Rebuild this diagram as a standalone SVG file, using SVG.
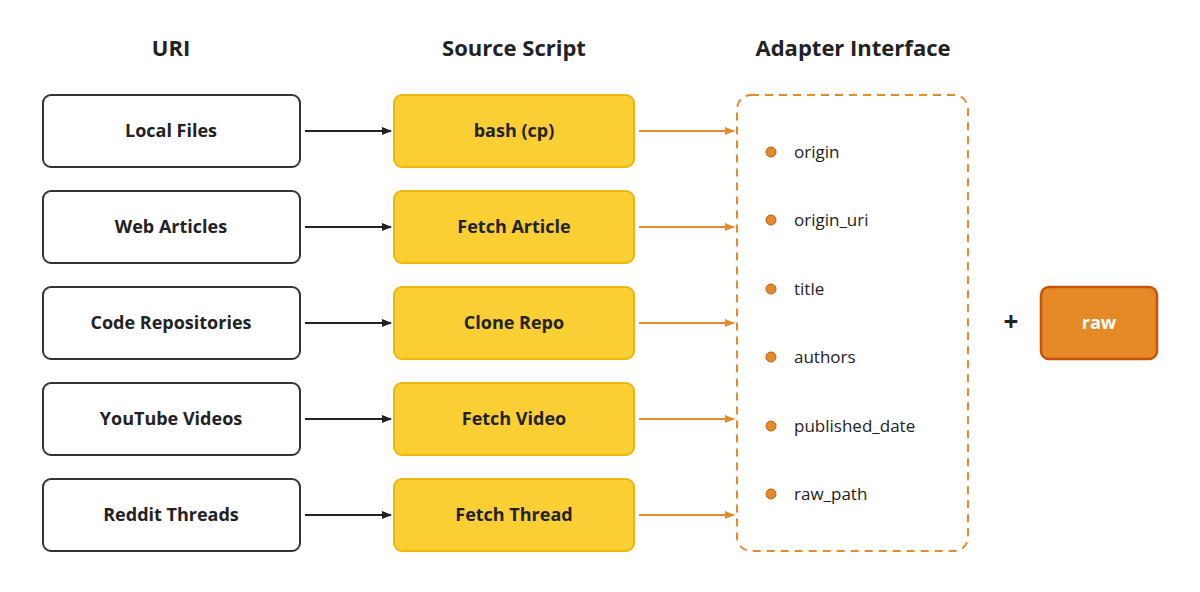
<svg xmlns="http://www.w3.org/2000/svg" width="1200" height="592" viewBox="0 0 1200 592">
<style>
text{font-family:"Open Sans","Noto Sans",sans-serif;fill:#222}
.h{font-size:22px;font-weight:700;text-anchor:middle}
.u rect{fill:#fff;stroke:#333;stroke-width:2}
.s rect{fill:#f9cf33;stroke:#e8b80f;stroke-width:2}
.n{font-size:18px;font-weight:700;text-anchor:middle}
.f{font-size:17px}
.d{fill:#e38a2a;stroke:#c45e10;stroke-width:1}
.bk{stroke:#222;stroke-width:2;fill:none}
.or{stroke:#e8892a;stroke-width:2;fill:none}
</style>
<defs>
<marker id="ab" markerWidth="10" markerHeight="8" refX="9" refY="4" orient="auto" markerUnits="userSpaceOnUse"><path d="M0,0 L10,4 L0,8 z" fill="#222"/></marker>
<marker id="ao" markerWidth="10" markerHeight="8" refX="9" refY="4" orient="auto" markerUnits="userSpaceOnUse"><path d="M0,0 L10,4 L0,8 z" fill="#e8892a"/></marker>
</defs>
<rect width="1200" height="592" fill="#fff"/>
<text class="h" x="171" y="56">URI</text>
<text class="h" x="514" y="56">Source Script</text>
<text class="h" x="853" y="56">Adapter Interface</text>
<g id="u1" class="u"><rect x="43" y="95" width="257" height="72" rx="8"/><text class="n" x="171" y="137">Local Files</text></g>
<g id="u2" class="u"><rect x="43" y="191" width="257" height="72" rx="8"/><text class="n" x="171" y="233">Web Articles</text></g>
<g id="u3" class="u"><rect x="43" y="287" width="257" height="72" rx="8"/><text class="n" x="171" y="329">Code Repositories</text></g>
<g id="u4" class="u"><rect x="43" y="383" width="257" height="72" rx="8"/><text class="n" x="171" y="425">YouTube Videos</text></g>
<g id="u5" class="u"><rect x="43" y="479" width="257" height="72" rx="8"/><text class="n" x="171" y="521">Reddit Threads</text></g>
<g id="s1" class="s"><rect x="394" y="95" width="240" height="72" rx="8"/><text class="n" x="514" y="137">bash (cp)</text></g>
<g id="s2" class="s"><rect x="394" y="191" width="240" height="72" rx="8"/><text class="n" x="514" y="233">Fetch Article</text></g>
<g id="s3" class="s"><rect x="394" y="287" width="240" height="72" rx="8"/><text class="n" x="514" y="329">Clone Repo</text></g>
<g id="s4" class="s"><rect x="394" y="383" width="240" height="72" rx="8"/><text class="n" x="514" y="425">Fetch Video</text></g>
<g id="s5" class="s"><rect x="394" y="479" width="240" height="72" rx="8"/><text class="n" x="514" y="521">Fetch Thread</text></g>
<g id="adapter">
<rect x="737" y="95" width="231" height="456" rx="14" fill="none" stroke="#e8892a" stroke-width="2" stroke-dasharray="8,6"/>
<circle class="d" cx="771" cy="152" r="5"/><text class="f" x="794" y="158">origin</text>
<circle class="d" cx="771" cy="220" r="5"/><text class="f" x="794" y="226">origin_uri</text>
<circle class="d" cx="771" cy="289" r="5"/><text class="f" x="794" y="295">title</text>
<circle class="d" cx="771" cy="357" r="5"/><text class="f" x="794" y="363">authors</text>
<circle class="d" cx="771" cy="426" r="5"/><text class="f" x="794" y="432">published_date</text>
<circle class="d" cx="771" cy="494" r="5"/><text class="f" x="794" y="500">raw_path</text>
</g>
<g id="plus"><text x="1011" y="331" style="font-size:26px;font-weight:700;text-anchor:middle">+</text></g>
<g id="raw"><rect x="1041" y="287" width="116" height="72" rx="8" fill="#e68a27" stroke="#c95209" stroke-width="2.5"/><text class="n" x="1099" y="329" style="fill:#fff">raw</text></g>
<g id="connectors">
<path class="bk" d="M305,131 H391" marker-end="url(#ab)"/>
<path class="bk" d="M305,227 H391" marker-end="url(#ab)"/>
<path class="bk" d="M305,323 H391" marker-end="url(#ab)"/>
<path class="bk" d="M305,419 H391" marker-end="url(#ab)"/>
<path class="bk" d="M305,515 H391" marker-end="url(#ab)"/>
<path class="or" d="M639,131 H734" marker-end="url(#ao)"/>
<path class="or" d="M639,227 H734" marker-end="url(#ao)"/>
<path class="or" d="M639,323 H734" marker-end="url(#ao)"/>
<path class="or" d="M639,419 H734" marker-end="url(#ao)"/>
<path class="or" d="M639,515 H734" marker-end="url(#ao)"/>
</g>
</svg>
